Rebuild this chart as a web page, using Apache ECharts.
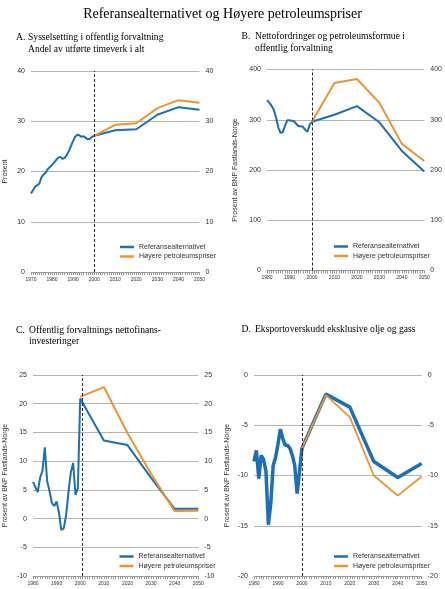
<!DOCTYPE html>
<html>
<head>
<meta charset="utf-8">
<script src="https://cdn.jsdelivr.net/npm/echarts@6/dist/echarts.min.js"></script>
<style>
  html, body { margin: 0; padding: 0; background: #fff; }
  #main { width: 445px; height: 589px; }
</style>
</head>
<body>
<div id="main"></div>
<script>
// felles år for framskrivingene
var yearsProj = [2000, 2010, 2020, 2030, 2040, 2050];

// A. Sysselsetting i offentlig forvaltning
var yearsHistA = [1970, 1971, 1972, 1973, 1974, 1975, 1976, 1977, 1978, 1979,
  1980, 1981, 1982, 1983, 1984, 1985, 1986, 1987, 1988, 1989,
  1990, 1991, 1992, 1993, 1994, 1995, 1996, 1997, 1998, 1999, 2000];
var refHistA = [15.6, 16.3, 17.0, 17.3, 17.6, 18.9, 19.4, 19.8, 20.5, 20.9,
  21.3, 21.8, 22.3, 22.8, 22.9, 22.5, 22.7, 23.3, 24.1, 25.1,
  26.1, 26.9, 27.3, 27.2, 26.9, 27.0, 26.7, 26.4, 26.5, 26.9, 27.1];
var refProjA = [27.1, 28.2, 28.4, 31.3, 32.8, 32.3];
var highProjA = [27.1, 29.3, 29.6, 32.6, 34.2, 33.7];

// B, C, D: historikk 1980-2000
var yearsHist = [1980, 1981, 1982, 1983, 1984, 1985, 1986, 1987, 1988, 1989,
  1990, 1991, 1992, 1993, 1994, 1995, 1996, 1997, 1998, 1999, 2000];

// B. Nettofordringer og petroleumsformue
var refHistB = [339, 334, 328, 320, 305, 285, 274, 275, 288, 299,
  299, 298, 297, 292, 287, 287, 286, 280, 276, 290, 296];
var refProjB = [296, 310, 327, 295, 238, 197];
var highProjB = [296, 373, 381, 334, 252, 218];

// C. Nettofinansinvesteringer
var refHistC = [6.4, 5.5, 4.6, 7.1, 8.3, 12.4, 6.5, 4.8, 2.7, 2.2,
  3.0, 1.0, -2.0, -1.7, 0.5, 4.5, 8.0, 9.7, 4.1, 5.3, 20.9];
var refProjC = [20.9, 13.6, 12.8, 7.1, 1.7, 1.7];
var highProjC = [21.2, 22.9, 14.9, 7.8, 1.3, 1.35];

// D. Eksportoverskudd eksklusive olje og gass
var refHistD = [-8.6, -7.5, -10.3, -8.0, -8.4, -9.6, -14.9, -12.8, -9.0, -8.2,
  -6.9, -5.4, -6.3, -7.0, -7.0, -7.3, -8.0, -9.0, -11.8, -9.6, -7.3];
var refProjD = [-7.3, -1.9, -3.2, -8.6, -10.2, -8.8];
var highProjD = [-7.3, -2.0, -4.2, -10.0, -12.0, -10.1];

var BLUE = '#1a6fb6';
var ORANGE = '#f0922e';
var SANS = '"Liberation Sans", Arial, Helvetica, sans-serif';
var SERIF = '"Liberation Serif", "Times New Roman", serif';

function pairs(years, vals) {
  return years.map(function (y, i) { return [y, vals[i]]; });
}

var panels = [
  { letter: 'A.', title: 'Sysselsetting i offentlig forvaltning\nAndel av utførte timeverk i alt',
    lx: 16, tx: 28, ty: 31, lh: 12,
    grid: { left: 31, top: 71, width: 168.5, height: 201 },
    xmin: 1970, ymin: 0, ymax: 40, step: 10, yname: 'Prosent', ngap: 22,
    hist: pairs(yearsHistA, refHistA), ref: refProjA, high: highProjA,
    split: 2000, wRef: 2, wHigh: 2, legend: { left: 120, top: 243 } },
  { letter: 'B.', title: 'Nettofordringer og petroleumsformue i\noffentlig forvaltning',
    lx: 241.5, tx: 255, ty: 31, lh: 11.7,
    grid: { left: 267, top: 69.5, width: 160, height: 201 },
    xmin: 1980, ymin: 0, ymax: 400, step: 100, yname: 'Prosent av BNP Fastlands-Norge', ngap: 28,
    hist: pairs(yearsHist, refHistB), ref: refProjB, high: highProjB,
    split: 2000, wRef: 2, wHigh: 2, legend: { left: 334, top: 242.5 } },
  { letter: 'C.', title: 'Offentlig forvaltnings nettofinans-\ninvesteringer',
    lx: 16, tx: 29, ty: 325, lh: 11,
    grid: { left: 33, top: 375, width: 165.3, height: 201 },
    xmin: 1980, ymin: -10, ymax: 25, step: 5, yname: 'Prosent av BNP Fastlands-Norge', ngap: 24.5,
    hist: pairs(yearsHist, refHistC), ref: refProjC, high: highProjC,
    split: 2001, wRef: 2, wHigh: 2, legend: { left: 119.5, top: 552.5 } },
  { letter: 'D.', title: 'Eksportoverskudd eksklusive olje og gass',
    lx: 241.5, tx: 255, ty: 324, lh: 11,
    grid: { left: 254, top: 375, width: 167.7, height: 201 },
    xmin: 1980, ymin: -20, ymax: 0, step: 5, yname: 'Prosent av BNP Fastlands-Norge', ngap: 23.5,
    hist: pairs(yearsHist, refHistD), ref: refProjD, high: highProjD,
    split: 2000, wRef: 3.5, wHigh: 1.8, legend: { left: 334, top: 552.5 } }
];

var titles = [{
  text: 'Referansealternativet og Høyere petroleumspriser',
  left: 'center', top: 2,
  textStyle: { fontFamily: SERIF, fontSize: 14, fontWeight: 'normal', color: '#000' }
}];
var grids = [], xAxes = [], yAxes = [], series = [], legends = [];

panels.forEach(function (p, i) {
  var serifStyle = { fontFamily: SERIF, fontSize: 9.6, fontWeight: 'normal', color: '#000', lineHeight: p.lh };
  titles.push({ text: p.letter, left: p.lx, top: p.ty, padding: 0, textStyle: serifStyle });
  titles.push({ text: p.title, left: p.tx, top: p.ty, padding: 0, textStyle: serifStyle });

  grids.push(p.grid);

  xAxes.push({
    type: 'value', gridIndex: i, min: p.xmin, max: 2050, interval: 10,
    axisLine: { show: true, onZero: false, lineStyle: { color: '#9a9a9a', width: 1 } },
    axisTick: { show: true, length: 3, lineStyle: { color: '#9a9a9a' } },
    minorTick: { show: true, splitNumber: 10, length: 3, lineStyle: { color: '#9a9a9a' } },
    splitLine: { show: false },
    axisLabel: { fontFamily: SANS, fontSize: 5, color: '#333', margin: 5,
      formatter: function (v) { return String(v); } }
  });

  var yBase = {
    type: 'value', gridIndex: i, min: p.ymin, max: p.ymax, interval: p.step,
    axisLine: { show: false }, axisTick: { show: false },
    axisLabel: { fontFamily: SANS, fontSize: 7, color: '#333', margin: 6 }
  };
  yAxes.push(Object.assign({}, yBase, {
    position: 'left',
    name: p.yname, nameLocation: 'middle', nameGap: p.ngap,
    nameTextStyle: { fontFamily: SANS, fontSize: 7, color: '#333' },
    splitLine: { show: true, lineStyle: { color: '#b5b5b5', width: 1 } }
  }));
  yAxes.push(Object.assign({}, yBase, {
    position: 'right', splitLine: { show: false }
  }));

  var refData = p.hist.concat(pairs(yearsProj.slice(1), p.ref.slice(1)));
  series.push({
    name: 'Referansealternativet', type: 'line',
    xAxisIndex: i, yAxisIndex: i * 2,
    data: refData, showSymbol: false, symbol: 'none',
    color: BLUE, lineStyle: { color: BLUE, width: p.wRef },
    markLine: {
      silent: true, symbol: ['none', 'none'], label: { show: false },
      lineStyle: { type: [3, 2], color: '#222', width: 1 },
      data: [{ xAxis: p.split }]
    }
  });
  series.push({
    name: 'Høyere petroleumspriser', type: 'line',
    xAxisIndex: i, yAxisIndex: i * 2,
    data: pairs(yearsProj, p.high), showSymbol: false, symbol: 'none',
    color: ORANGE, lineStyle: { color: ORANGE, width: p.wHigh }
  });

  legends.push({
    orient: 'vertical', left: p.legend.left, top: p.legend.top, padding: 0,
    itemWidth: 14, itemHeight: 2.5, itemGap: 1.5, icon: 'rect', selectedMode: false,
    textStyle: { fontFamily: SANS, fontSize: 7, color: '#333', lineHeight: 8 },
    data: ['Referansealternativet', 'Høyere petroleumspriser']
  });
});

var chart = echarts.init(document.getElementById('main'), null, { renderer: 'canvas' });
chart.setOption({
  animation: false,
  backgroundColor: '#fff',
  title: titles,
  grid: grids,
  xAxis: xAxes,
  yAxis: yAxes,
  legend: legends,
  series: series
});
</script>
</body>
</html>
